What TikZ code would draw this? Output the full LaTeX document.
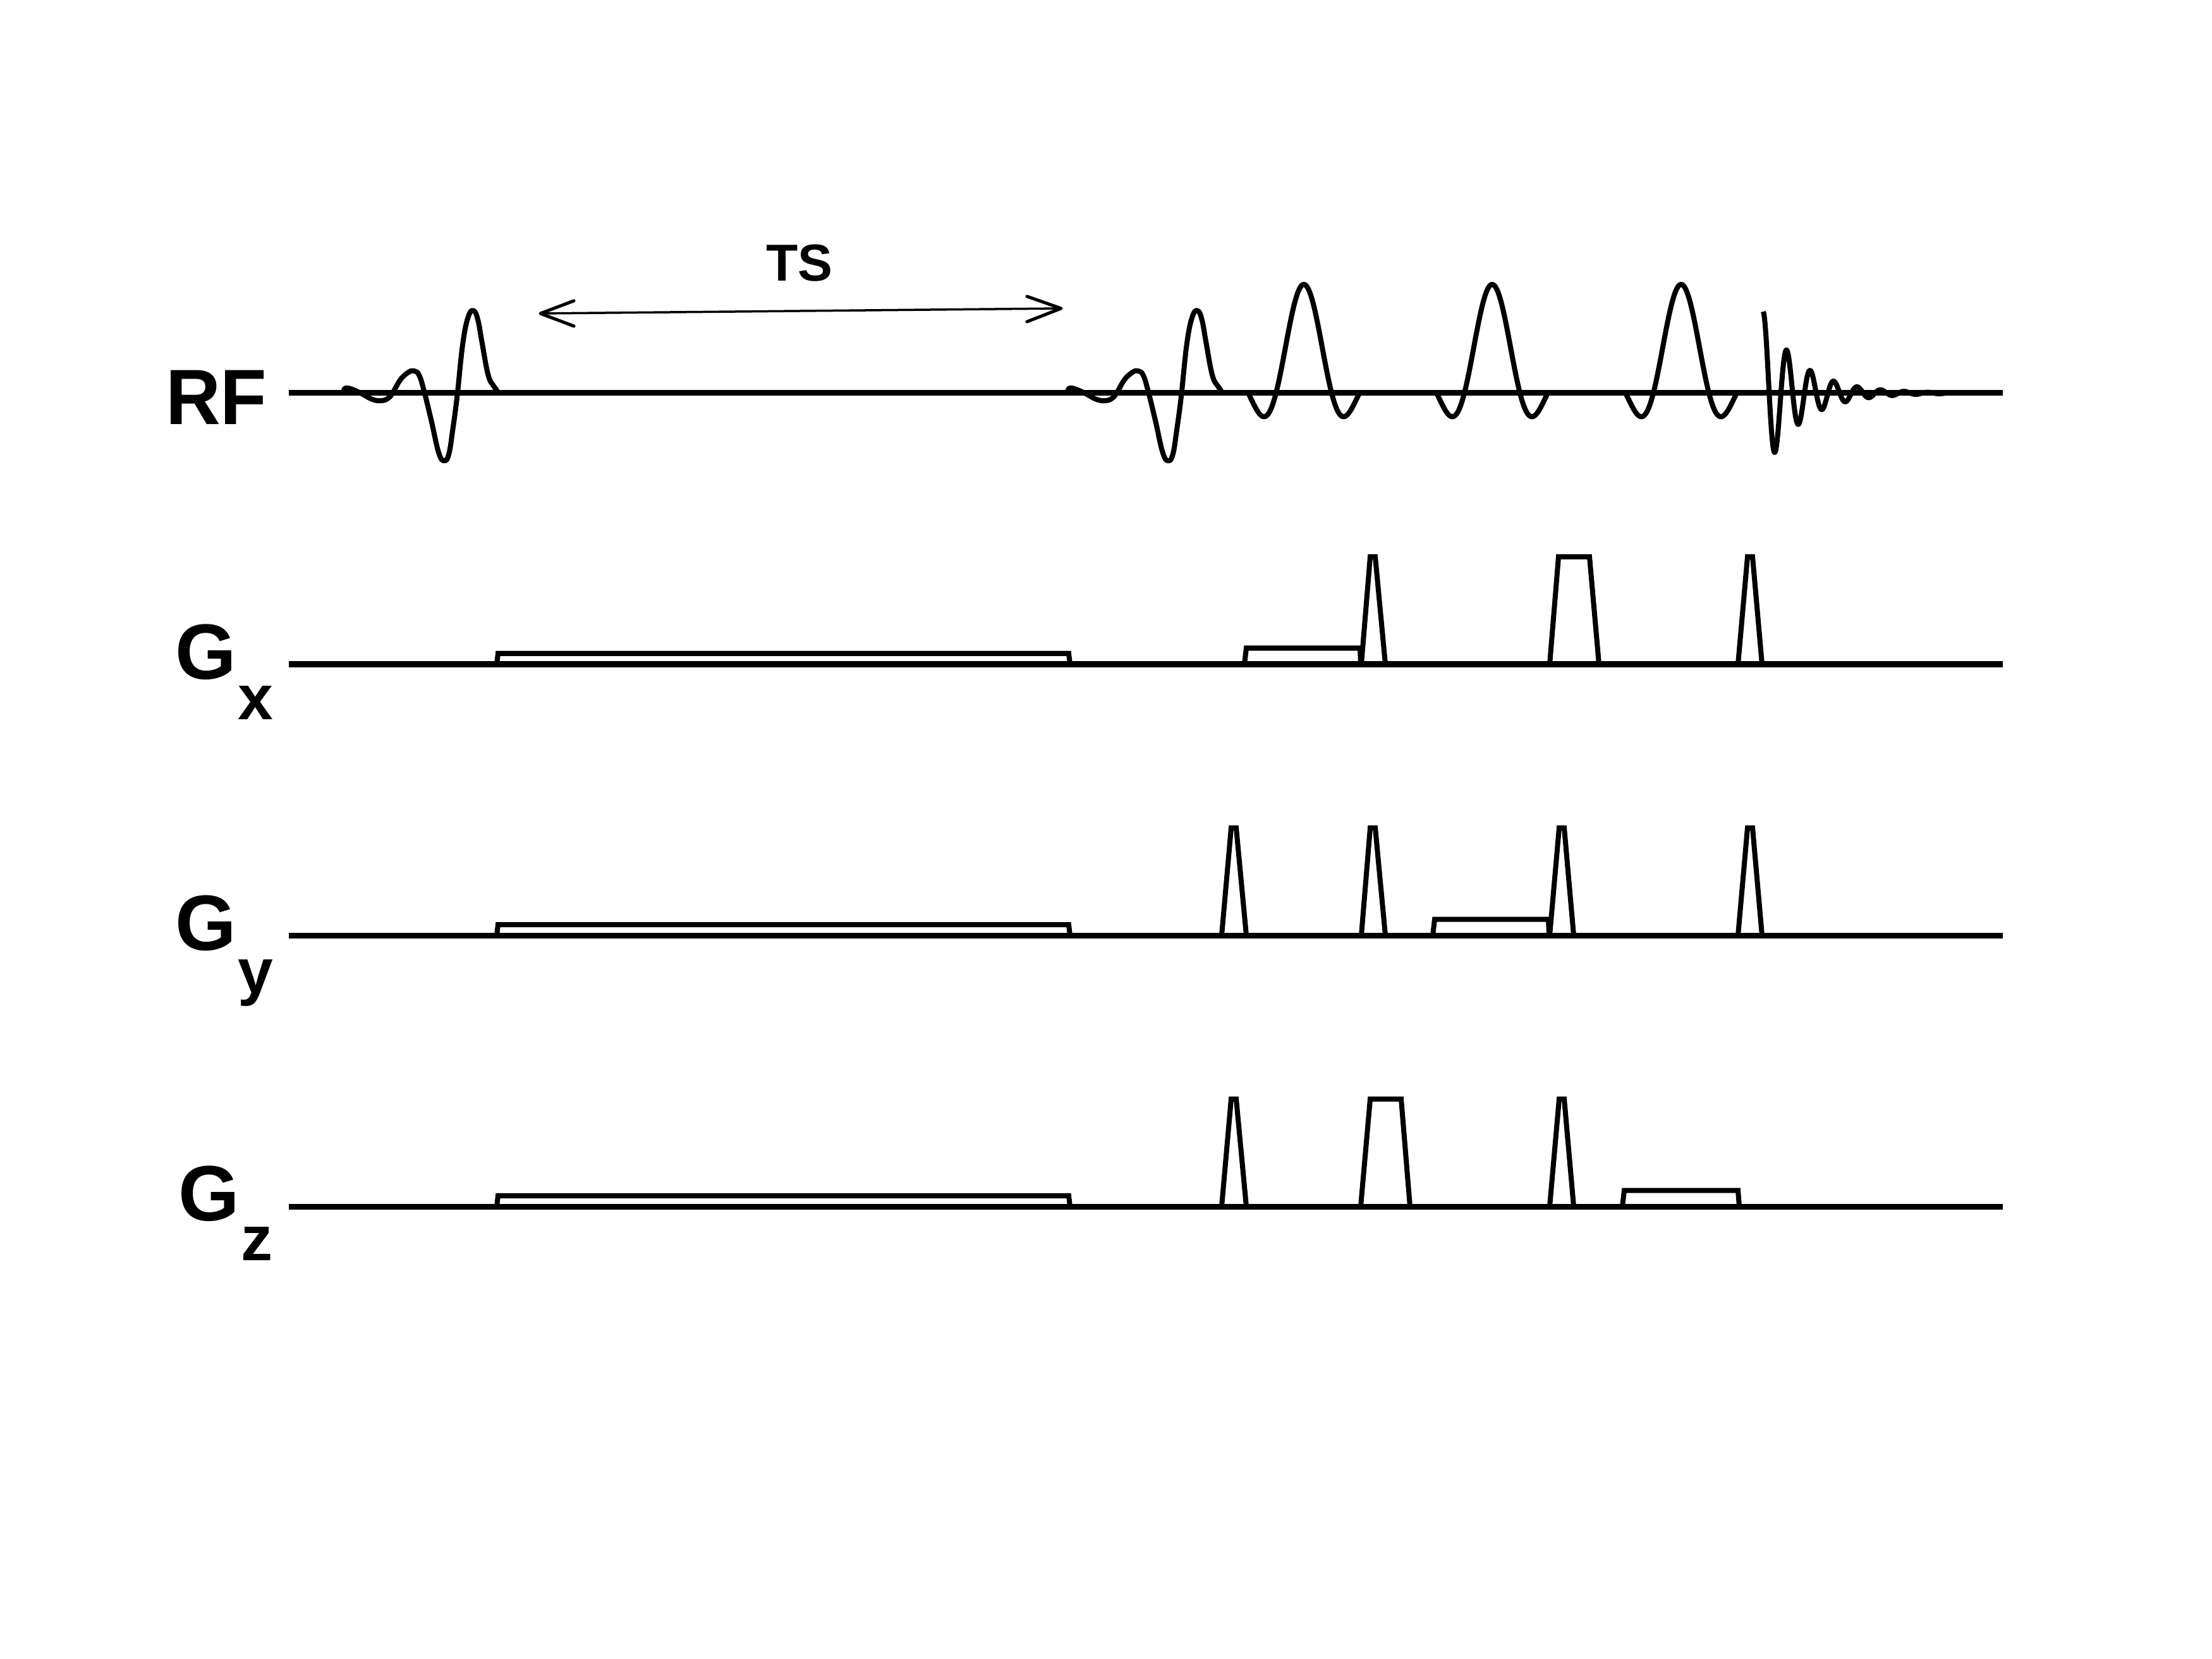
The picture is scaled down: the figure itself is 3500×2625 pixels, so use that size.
\documentclass[tikz,border=0pt]{standalone}
\usepackage{fontspec}
\setmainfont{Liberation Sans}[BoldFont={Liberation Sans Bold}]
\usetikzlibrary{arrows.meta}
\newcommand{\labelfont}{\fontsize{35.3pt}{36pt}\selectfont\bfseries}
\newcommand{\subfont}{\fontsize{28.5pt}{29pt}\selectfont\bfseries}
\newcommand{\tsfont}{\fontsize{23.4pt}{25pt}\selectfont\bfseries}
\tikzset{
  axisline/.style={line width=0.09cm},
  wave/.style={line width=0.08cm, line join=round},
  grad/.style={line width=0.08cm, line join=miter},
  lbl/.style={inner sep=0pt, outer sep=0pt, anchor=base west, text=black},
}
\newcommand{\excitation}{
  plot[smooth, tension=0.7] coordinates {(1689,624)(1690,617)(1693,614)(1703,616)(1718,623)(1735,632)(1749,634)(1760,630)(1768,620)(1779,601)(1792,589)(1801,587)(1809,594)(1817,620)(1828,665)(1840,717)(1849,729)(1856,718)(1862,680)(1869,627)(1878,543)(1887,500)(1895.5,492)(1902,507)(1908,540)(1918,593)(1927,611)(1932,618)(1932,624)}
}
\newcommand{\sincpulse}{
  plot[domain=-88:88, samples=120, smooth] (\x, {622-172*sin(\x*4.0909)/(\x*0.0714)})
}
\begin{document}
\begin{tikzpicture}[x=0.01cm, y=-0.01cm]
\useasboundingbox (0,0) rectangle (3500,2625);
\fill[white] (0,0) rectangle (3500,2625);

% axes
\coordinate (rfL) at (457,622); \coordinate (rfR) at (3169,622);
\coordinate (gxL) at (457,1051); \coordinate (gxR) at (3169,1051);
\coordinate (gyL) at (457,1480); \coordinate (gyR) at (3169,1480);
\coordinate (gzL) at (457,1909); \coordinate (gzR) at (3169,1909);
\draw[axisline] (rfL) -- (rfR);
\draw[axisline] (gxL) -- (gxR);
\draw[axisline] (gyL) -- (gyR);
\draw[axisline] (gzL) -- (gzR);

% labels
\node[lbl, xscale=0.97] (rf) at (262,672) {\labelfont RF};
\node[lbl] (gx) at (277,1074) {\labelfont G};
\node[lbl] (gxs) at (376,1138) {\subfont x};
\node[lbl] (gy) at (277,1503) {\labelfont G};
\node[lbl] (gys) at (376,1571) {\subfont y};
\node[lbl] (gz) at (282,1931) {\labelfont G};
\node[lbl] (gzs) at (381,1994) {\subfont z};
\node[lbl] (ts) at (1212,445) {\tsfont TS};

% TS arrow
\coordinate (tsL) at (855,496); \coordinate (tsR) at (1679,488);
\draw[line width=0.035cm] (tsL) -- (tsR);
\draw[line width=0.05cm, line join=round, line cap=round] (908,476) -- (tsL) -- (908,516);
\draw[line width=0.05cm, line join=round, line cap=round] (1625,469) -- (tsR) -- (1625,509);

% RF waveforms
\begin{scope}[xshift=-11.45cm]
  \draw[wave] \excitation;
\end{scope}
\draw[wave] \excitation;
\draw[wave, shift={(2063,0)}] \sincpulse;
\draw[wave, shift={(2361,0)}] \sincpulse;
\draw[wave, shift={(2660,0)}] \sincpulse;
% FID
\draw[wave, line cap=butt] plot[domain=2790:3089, samples=320] (\x, {622-129*exp(-(\x-2790)/58)*cos((\x-2790)*9.677)});

% long low blocks
\draw[grad] (786,1051) -- (788,1034) -- (1691,1034) -- (1693,1051);
\draw[grad] (786,1480) -- (788,1463) -- (1691,1463) -- (1693,1480);
\draw[grad] (786,1909) -- (788,1892) -- (1691,1892) -- (1693,1909);

% Gx
\draw[grad] (1969,1051) -- (1972,1025.5) -- (2152,1025.5) -- (2153,1051);
\draw[grad] (2154,1051) -- (2168,881) -- (2176,881) -- (2192,1051);
\draw[grad] (2452,1051) -- (2466,881) -- (2515,881) -- (2530,1051);
\draw[grad] (2750,1051) -- (2765,881) -- (2773,881) -- (2788,1051);

% Gy
\draw[grad] (1933,1480) -- (1948,1310) -- (1956,1310) -- (1972,1480);
\draw[grad] (2154,1480) -- (2168,1310) -- (2176,1310) -- (2192,1480);
\draw[grad] (2267,1480) -- (2270,1454.5) -- (2450,1454.5) -- (2451,1480);
\draw[grad] (2452,1480) -- (2467,1310) -- (2475,1310) -- (2490,1480);
\draw[grad] (2750,1480) -- (2765,1310) -- (2773,1310) -- (2788,1480);

% Gz
\draw[grad] (1933,1909) -- (1948,1739) -- (1956,1739) -- (1972,1909);
\draw[grad] (2153,1909) -- (2168,1739) -- (2217,1739) -- (2231,1909);
\draw[grad] (2452,1909) -- (2467,1739) -- (2475,1739) -- (2490,1909);
\draw[grad] (2567,1909) -- (2570,1883.5) -- (2750,1883.5) -- (2752,1909);
\end{tikzpicture}
\end{document}
